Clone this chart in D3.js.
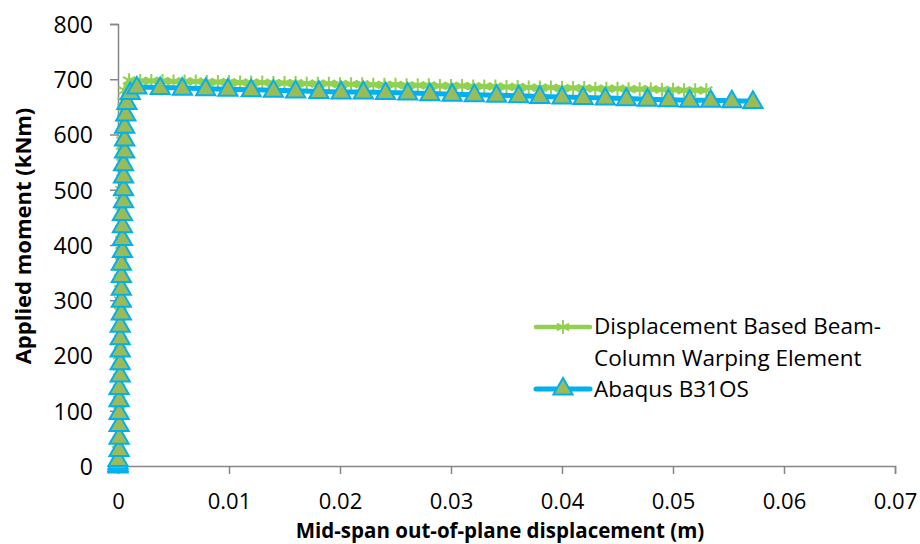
<!DOCTYPE html>
<html>
<head>
<meta charset="utf-8">
<script src="https://cdn.jsdelivr.net/npm/d3@7"></script>
<style>
  body { margin: 0; background: #fff; }
  svg { display: block; font-family: "Open Sans", sans-serif; }
</style>
</head>
<body>
<svg id="chart" width="920" height="544"></svg>
<script>
// data
const xTicks = [0, 0.01, 0.02, 0.03, 0.04, 0.05, 0.06, 0.07];
const yTicks = [0, 100, 200, 300, 400, 500, 600, 700, 800];

// Displacement Based Beam-Column Warping Element
const dbDisp = [
  0.0000, 0.0000, 0.0000, 0.0001, 0.0001, 0.0001, 0.0001, 0.0001, 0.0001, 0.0001,
  0.0001, 0.0002, 0.0002, 0.0002, 0.0002, 0.0002, 0.0002, 0.0002, 0.0002, 0.0003,
  0.0003, 0.0003, 0.0003, 0.0003, 0.0003, 0.0003, 0.0004, 0.0004, 0.0004, 0.0004,
  0.0004, 0.0005, 0.0005, 0.0005, 0.0006,
  0.001, 0.002, 0.003, 0.004, 0.005, 0.006, 0.007, 0.008, 0.009, 0.010,
  0.011, 0.012, 0.013, 0.014, 0.015, 0.016, 0.017, 0.018, 0.019, 0.020,
  0.021, 0.022, 0.023, 0.024, 0.025, 0.026, 0.027, 0.028, 0.029, 0.030,
  0.031, 0.032, 0.033, 0.034, 0.035, 0.036, 0.037, 0.038, 0.039, 0.040,
  0.041, 0.042, 0.043, 0.044, 0.045, 0.046, 0.047, 0.048, 0.049, 0.050,
  0.051, 0.052, 0.053
];
const dbMoment = [
  0, 20, 40, 60, 80, 100, 120, 140, 160, 180,
  200, 220, 240, 260, 280, 300, 320, 340, 360, 380,
  400, 420, 440, 460, 480, 500, 520, 540, 560, 580,
  600, 620, 640, 660, 680,
  698, 697, 697, 697, 696, 696, 696, 695, 695, 695,
  694, 694, 694, 693, 693, 693, 692, 692, 692, 691,
  691, 691, 690, 690, 690, 689, 689, 689, 688, 688,
  688, 687, 687, 687, 686, 686, 685, 685, 685, 684,
  684, 684, 683, 683, 683, 682, 682, 682, 681, 681,
  680, 680, 680
];

// Abaqus B31OS
const abDisp = [
  0.0000, 0.0000, 0.0000, 0.0000, 0.0001, 0.0001, 0.0001, 0.0001, 0.0001, 0.0001,
  0.0002, 0.0002, 0.0002, 0.0002, 0.0002, 0.0003, 0.0003, 0.0003, 0.0003, 0.0003,
  0.0004, 0.0004, 0.0004, 0.0004, 0.0005, 0.0005, 0.0005, 0.0005, 0.0006, 0.0006,
  0.0006, 0.0007, 0.0008, 0.0011,
  0.0017, 0.0038, 0.0058, 0.0079, 0.0099, 0.0120, 0.0140, 0.0160, 0.0181, 0.0201,
  0.0221, 0.0241, 0.0261, 0.0281, 0.0301, 0.0321, 0.0341, 0.0361, 0.0380, 0.0400,
  0.0419, 0.0439, 0.0458, 0.0477, 0.0496, 0.0515, 0.0534, 0.0553, 0.0572
];
const abMoment = [
  0, 3, 7, 12, 30, 52, 75, 97, 120, 142,
  165, 187, 210, 232, 255, 277, 300, 322, 345, 367,
  390, 412, 435, 457, 480, 502, 525, 547, 570, 592,
  615, 637, 658, 676,
  686, 685, 684, 683, 682, 681, 680, 679, 678, 677,
  677, 676, 675, 674, 673, 672, 671, 670, 669, 668,
  667, 666, 665, 664, 663, 662, 662, 661, 660
];

const seriesNames = ["Displacement Based Beam-Column Warping Element", "Abaqus B31OS"];

const green = "#92D050", blue = "#00B0F0", olive = "#9BBB59", axisCol = "#868686";

const svg = d3.select("#chart");
const x = d3.scaleLinear().domain([0, 0.07]).range([118, 895]);
const y = d3.scaleLinear().domain([0, 800]).range([466, 24]);

// axes
const yAxis = svg.append("g").attr("transform", "translate(118,0)")
  .call(d3.axisLeft(y).tickValues(yTicks).tickSize(8).tickPadding(17).tickFormat(d3.format("d")));
const xAxis = svg.append("g").attr("transform", "translate(0,466)")
  .call(d3.axisBottom(x).tickValues(xTicks).tickSize(8).tickPadding(19).tickFormat(d => d === 0 ? "0" : d3.format(".2f")(d)));
[yAxis, xAxis].forEach(g => {
  g.select(".domain").attr("stroke", axisCol).attr("stroke-width", 1.5);
  g.selectAll(".tick line").attr("stroke", axisCol).attr("stroke-width", 1.5);
  g.selectAll(".tick text").attr("fill", "#000").style("font-family", "Open Sans");
});
yAxis.selectAll(".tick text").attr("dy", "0.36em").style("font-size", "23px");
xAxis.selectAll(".tick text").style("font-size", "22px");
xAxis.selectAll(".tick line").filter(d => d === 0).remove();

// axis titles
svg.append("text").attr("x", 500).attr("y", 538).attr("text-anchor", "middle")
  .style("font-size", "20.5px").style("font-weight", "bold").text("Mid-span out-of-plane displacement (m)");
svg.append("text").attr("transform", "translate(31,236) rotate(-90)").attr("text-anchor", "middle")
  .style("font-size", "22px").style("font-weight", "bold").text("Applied moment (kNm)");

const line = d3.line().x(d => x(d[0])).y(d => y(d[1]));
const dbData = dbDisp.map((d, i) => [d, dbMoment[i]]);
const abData = abDisp.map((d, i) => [d, abMoment[i]]);

// asterisk marker path (vertical + two diagonals)
function star(r) {
  const a = r * 0.87, b = r * 0.5;
  return `M0,${-r}L0,${r}M${-a},${-b}L${a},${b}M${-a},${b}L${a},${-b}`;
}
const tri = d3.symbol().type(d3.symbolTriangle).size(160);

const plot = svg.append("g");
plot.append("path").datum(dbData).attr("d", line)
  .attr("fill", "none").attr("stroke", green).attr("stroke-width", 5).attr("stroke-linejoin", "round");
plot.selectAll(".db-mark").data(dbData).join("path").attr("class", "db-mark")
  .attr("transform", d => `translate(${x(d[0])},${y(d[1])})`)
  .attr("d", star(7)).attr("stroke", green).attr("stroke-width", 2).attr("fill", "none");

plot.append("path").datum(abData).attr("d", line)
  .attr("fill", "none").attr("stroke", blue).attr("stroke-width", 5).attr("stroke-linejoin", "round");
plot.selectAll(".ab-mark").data(abData).join("path").attr("class", "ab-mark")
  .attr("transform", d => `translate(${x(d[0])},${y(d[1]) + 1})`)
  .attr("d", tri).attr("fill", olive).attr("stroke", blue).attr("stroke-width", 2);

// legend
const lg = svg.append("g");
lg.append("line").attr("x1", 536).attr("x2", 590).attr("y1", 327).attr("y2", 327)
  .attr("stroke", green).attr("stroke-width", 4.5).attr("stroke-linecap", "round");
lg.append("path").attr("transform", "translate(563,327)").attr("d", star(7))
  .attr("stroke", green).attr("stroke-width", 1.8);
lg.append("line").attr("x1", 536).attr("x2", 590).attr("y1", 389).attr("y2", 389)
  .attr("stroke", blue).attr("stroke-width", 5).attr("stroke-linecap", "round");
lg.append("path").attr("transform", "translate(563,389)").attr("d", tri)
  .attr("fill", olive).attr("stroke", blue).attr("stroke-width", 2);
const lt = lg.append("text").style("font-size", "22.5px").attr("fill", "#000");
lt.append("tspan").attr("x", 594).attr("y", 334).text("Displacement Based Beam-");
lt.append("tspan").attr("x", 594).attr("y", 366).text("Column Warping Element");
lg.append("text").attr("x", 594).attr("y", 397).style("font-size", "22.5px").text(seriesNames[1]);
</script>
</body>
</html>
